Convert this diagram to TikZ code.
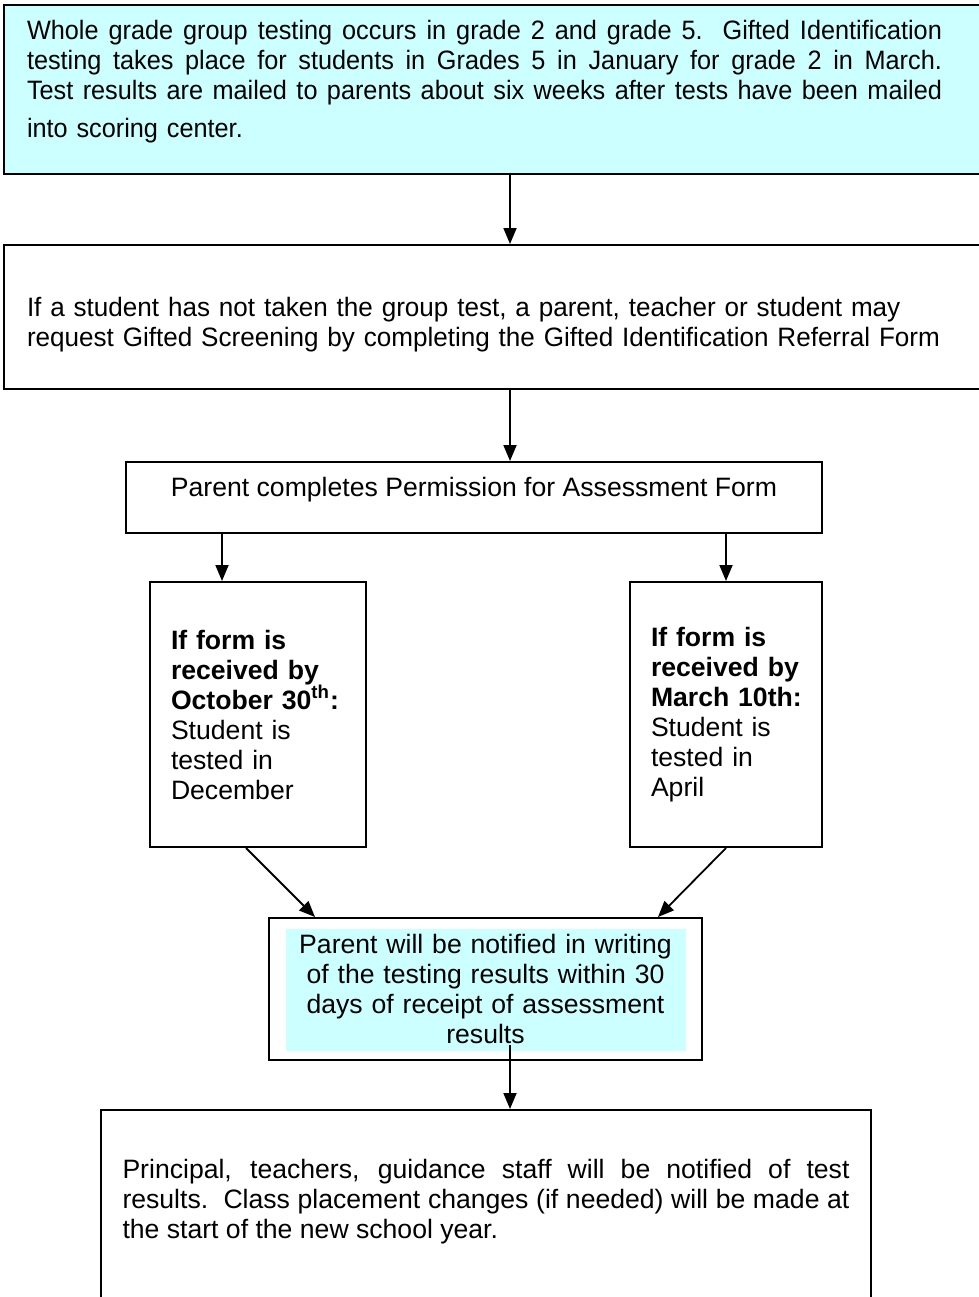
\documentclass[tikz,border=0pt]{standalone}
\usepackage{fontspec}
\setmainfont{Liberation Sans}
\usetikzlibrary{arrows.meta}
\definecolor{paleaqua}{HTML}{CCFFFF}
\newcommand{\fullline}[1]{\leavevmode\hbox to 457.5pt{\spaceskip=\fontdimen2\font plus 1fil\relax #1}}

\begin{document}
\begin{tikzpicture}[x=0.5pt,y=-0.5pt,
	box/.style={draw,line width=1pt,anchor=north west,inner xsep=11.5pt,inner ysep=0pt,font=\fontsize{13.3}{15}\selectfont},
	link/.style={line width=0.9pt,-{Triangle[length=8pt,width=6.5pt]}}]
	\useasboundingbox (0,0) rectangle (979,1297);
	
	\node[box,fill=paleaqua,text width=475.5pt,minimum height=84.5pt,align=left,
		font=\fontsize{13.3}{15}\selectfont\addfontfeatures{FakeStretch=0.95}] (grade) at (3,4)
	{\fullline{Whole grade group testing occurs in grade 2 and grade 5.\ \ Gifted Identification}\\
	\fullline{testing takes place for students in Grades 5 in January for grade 2 in March.}\\
	\fullline{Test results are mailed to parents about six weeks after tests have been mailed}\\[4pt]
	into scoring center.\rule[-11pt]{0pt}{0pt}};
	
	\node[box,text width=475.5pt,minimum height=72pt,align=left] (referral) at (3,244)
	{\addfontfeatures{FakeStretch=0.98}\rule{0pt}{17pt}If a student has not taken the group test, a parent, teacher or student may\\
	request Gifted Screening by completing the Gifted Identification Referral Form};
	
	\node[box,minimum width=348pt,minimum height=35.5pt,text depth=11pt,inner xsep=0pt] (permit) at (125,461)
	{Parent completes Permission for Assessment Form};
	
	\node[box,text width=87pt,inner xsep=10.5pt,minimum height=132.5pt,align=left] (autumn) at (149,581)
	{{\bfseries If form is\\ received by\\ October 30\textsuperscript{th}:}\\ Student is\\ tested in\\ December};
	\node[box,text width=75pt,inner xsep=10.5pt,minimum height=132.5pt,align=left] (spring) at (629,581)
	{{\bfseries If form is\\ \mbox{received by}\\ \mbox{March 10th:}}\\ Student is\\ tested in\\ April};
	
	\node[box,text width=200pt,inner xsep=8.25pt,minimum height=71pt,align=center,
		path picture={\fill[paleaqua] ([shift={(17,11)}]path picture bounding box.north west) rectangle ([shift={(-16,-9)}]path picture bounding box.south east);}] (notice) at (268,917)
	{Parent will be notified in writing\\ of the testing results within 30\\ days of receipt of assessment\\ results};
	
	\node[box,text width=363.5pt,inner xsep=10.75pt,minimum height=105.5pt,align=justify] (staff) at (100,1109)
	{Principal, teachers, guidance staff will be notified of test\linebreak
	results.\ \ Class placement changes (if needed) will be made at\linebreak
	the start of the new school year.\rule[-17pt]{0pt}{0pt}};
	
	\coordinate (spine) at (510,0);
	\coordinate (leftdrop) at (222,0);
	\draw[link] (grade.south -| spine) -- (referral.north -| spine);
	\draw[link] (referral.south -| spine) -- (permit.north -| spine);
	\draw[link] (permit.south -| leftdrop) -- (autumn.north -| leftdrop);
	\draw[link] (permit.south -| spring.north) -- (spring.north);
	\draw[link] ([xshift=-6pt]autumn.south) -- ([xshift=23.5pt]notice.north west);
	\draw[link] (spring.south) -- ([xshift=-22.5pt]notice.north east);
	\draw[link] ([yshift=8pt]notice.south -| spine) -- (staff.north -| spine);
\end{tikzpicture}
\end{document}
